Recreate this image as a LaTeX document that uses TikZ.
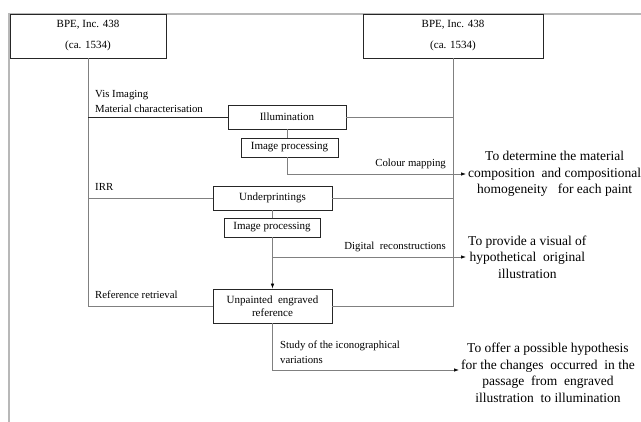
\documentclass[tikz,border=0pt]{standalone}
\usepackage{fontspec}
\setmainfont{Liberation Serif}
\usetikzlibrary{arrows.meta,calc}

\begin{document}
\begin{tikzpicture}[x=1pt,y=-1pt]
                % define styles
\tikzset{box/.style={draw=black!85,
                     line width=0.7pt,
                     inner sep=0,
                     minimum height=24pt,
                     font=\fontsize{11}{13}\selectfont,
                     },
         link/.style={draw=black!50,
                      line width=0.7pt,
                      },
         tag/.style={inner sep=0,
                     align=left,
                     font=\fontsize{10.8}{15}\selectfont,
                     },
         goal/.style={inner sep=2pt,
                      align=center,
                      font=\fontsize{13.5}{16.5}\selectfont,
                      },
         arr/.style={-{Latex[length=5pt,width=3.5pt,color=black]}}
}

\useasboundingbox (0,0) rectangle (641,422);

% frame
\draw[black!28, line width=2.2pt] (9,422) -- (9,14) -- (641,14);

% source boxes
\node[box, minimum width=156pt, minimum height=44pt, align=center] (bpeL) at (88,36)
    {BPE, Inc. 438\\[8pt](ca. 1534)};
\node[box, minimum width=180pt, minimum height=44pt, align=center] (bpeR) at (453,36)
    {BPE, Inc. 438\\[8pt](ca. 1534)};

% process boxes
\node[box, minimum width=118pt] (illum) at (287,117)   {Illumination};
\node[box, minimum width=97pt, minimum height=19pt] (proc1) at (289.5,147.5) {Image processing};
\node[box, minimum width=119pt] (under) at (272.5,198) {Underprintings};
\node[box, minimum width=96pt, minimum height=19pt] (proc2) at (272,227.5) {Image processing};
\node[box, minimum width=119pt, minimum height=34pt, align=center] (unp) at (272.5,306)
    {Unpainted\ \ engraved\\reference};

% aims
\node[goal, anchor=west] (goal1) at (466,174)
    {To determine the material\\composition\ \ and compositional\\homogeneity\ \ \ for each paint};
\node[goal, anchor=west] (goal2) at (466,257)
    {To provide a visual of\\hypothetical\ \ original\\illustration};
\node[goal, anchor=west] (goal3) at (459,373)
    {To offer a possible hypothesis\\for the changes\ \ occurred\ \ in the\\passage\ \ from\ \ engraved\\illustration\ \ to illumination};

% connectors
\draw[link] (bpeL.south) |- (unp.west);
\draw[link] (bpeR.south) |- (unp.east);
\draw[link, draw=black!85] (bpeL.south |- illum.west) -- (illum.west);
\draw[link] (illum.east) -- (illum.east -| bpeR.south);
\draw[link] (bpeL.south |- under.west) -- (under.west);
\draw[link] (under.east) -- (under.east -| bpeR.south);
\draw[link] (illum.south) -- (illum.south |- proc1.north);
\draw[link, arr] (illum.south |- proc1.south) |- (goal1.west);
\draw[link] (under.south) -- (under.south |- proc2.north);
\draw[link, arr] (under.south |- proc2.south) -- (unp.north);
\draw[link, arr] (under.south |- goal2.west) -- (goal2.west);
\draw[link, arr] (unp.south) |- ($(goal3.west)+(0,-3)$);

% labels
\node[tag, anchor=west] (vis) at (95,101) {Vis Imaging\\Material characterisation};
\node[tag, anchor=east] (colmap) at (446,164) {Colour mapping};
\node[tag, anchor=west] (irr) at (95,187) {IRR};
\node[tag, anchor=east] (digrec) at (446,247) {Digital\ \ reconstructions};
\node[tag, anchor=west] (refret) at (95,295) {Reference retrieval};
\node[tag, anchor=west] (study) at (280,352) {Study of the iconographical\\variations};

\end{tikzpicture}
\end{document}
